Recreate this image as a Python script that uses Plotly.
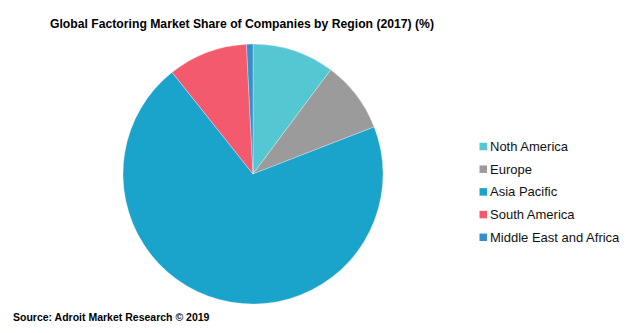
import plotly.graph_objects as go

regions = ["Noth America", "Europe", "Asia Pacific", "South America", "Middle East and Africa"]
shares = [10.2, 8.9, 70.2, 9.9, 0.8]
colors = ["#55C7D3", "#9B9B9B", "#1AA3CB", "#F45A6E", "#3590C9"]

W, H = 636, 333
cx, cy, r = 253, 174, 130

fig = go.Figure(go.Pie(
    labels=regions, values=shares, sort=False, direction="clockwise", rotation=0,
    marker=dict(colors=colors, line=dict(color="rgba(255,255,255,0.6)", width=0.5)),
    textinfo="none", hoverinfo="label+percent", showlegend=False,
    domain=dict(x=[(cx - r) / W, (cx + r) / W], y=[1 - (cy + r) / H, 1 - (cy - r) / H]),
))

annotations = [
    dict(text="<b>Global Factoring Market Share of Companies by Region (2017) (%)</b>",
         x=242 / W, y=1 - 24 / H, xref="paper", yref="paper", showarrow=False,
         xanchor="center", yanchor="middle",
         font=dict(size=12.2, family="Liberation Sans, Arial, sans-serif")),
    dict(text="<b>Source: Adroit Market Research © 2019</b>",
         x=11 / W, y=1 - 317 / H, xref="paper", yref="paper", showarrow=False,
         xanchor="left", yanchor="middle", font=dict(size=10.5)),
]
shapes = []
y0, dy = 146.5, 22.7
for i, (name, col) in enumerate(zip(regions, colors)):
    yc = y0 + dy * i
    shapes.append(dict(type="rect", xref="paper", yref="paper",
                       x0=479.5 / W, x1=487 / W, y0=1 - (yc + 3.75) / H, y1=1 - (yc - 3.75) / H,
                       fillcolor=col, line=dict(width=0)))
    annotations.append(dict(text=name, x=488 / W, y=1 - yc / H, xref="paper", yref="paper",
                            showarrow=False, xanchor="left", yanchor="middle",
                            font=dict(size=13, color="#111")))

fig.update_layout(
    width=W, height=H, margin=dict(l=0, r=0, t=0, b=0),
    paper_bgcolor="white", plot_bgcolor="white",
    font=dict(family="Liberation Sans, Arial, sans-serif", color="#000"),
    showlegend=False, annotations=annotations, shapes=shapes,
)
fig.write_html("out.html")
